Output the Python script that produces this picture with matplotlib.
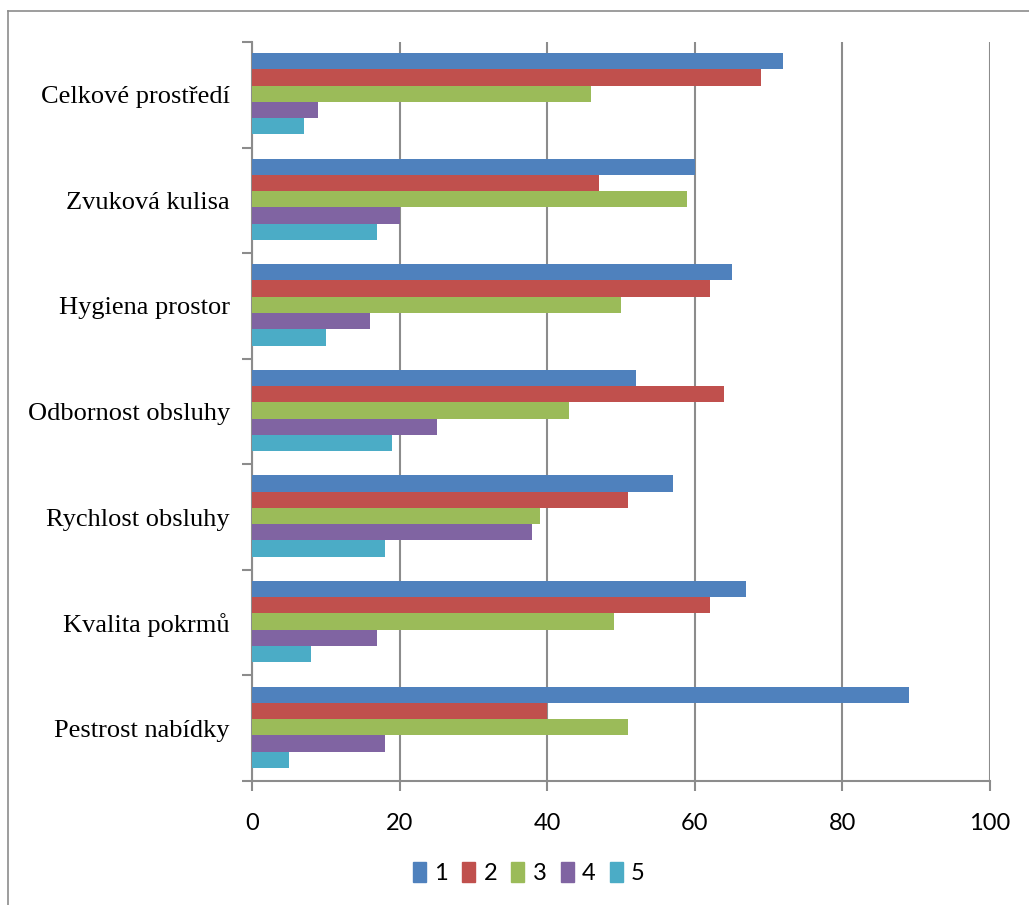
import numpy as np
import matplotlib
matplotlib.use("Agg")
import matplotlib.pyplot as plt
import matplotlib.ticker as ticker
from matplotlib.lines import Line2D

DPI = 100
WIDTH_PX = 1029
HEIGHT_PX = 905

# ── data (bottom category first) ──
categories = ["Pestrost nabídky", "Kvalita pokrmů", "Rychlost obsluhy",
              "Odbornost obsluhy", "Hygiena prostor", "Zvuková kulisa",
              "Celkové prostředí"]
series_names = ["1", "2", "3", "4", "5"]
s1 = [89, 67, 57, 52, 65, 60, 72]
s2 = [40, 62, 51, 64, 62, 47, 69]
s3 = [51, 49, 39, 43, 50, 59, 46]
s4 = [18, 17, 38, 25, 16, 20, 9]
s5 = [5, 8, 18, 19, 10, 17, 7]
x_ticks = [0, 20, 40, 60, 80, 100]

colors = ["#4F81BD", "#C0504D", "#9BBB59", "#8064A2", "#4BACC6"]
GRID = "#8C8C8C"
SANS = ["Lato", "DejaVu Sans"]

fig = plt.figure(figsize=(WIDTH_PX / DPI, HEIGHT_PX / DPI), dpi=DPI)
ax = fig.add_axes([252 / WIDTH_PX, 1 - 781 / HEIGHT_PX,
                   (990 - 252) / WIDTH_PX, (781 - 42) / HEIGHT_PX])

y = np.arange(len(categories))
bar_h = 0.154
for i, vals in enumerate([s1, s2, s3, s4, s5]):
    # series 1 on top inside each group
    offs = (2 - i) * bar_h + 0.01
    ax.barh(y + offs, vals, height=bar_h, color=colors[i],
            edgecolor="none", zorder=3, label=series_names[i])

ax.set_xlim(0, 100)
ax.set_ylim(-0.5, len(categories) - 0.5)
ax.set_xticks(x_ticks)
ax.set_xticklabels([str(t) for t in x_ticks], fontsize=17, family=SANS)
ax.set_yticks(y)
ax.set_yticklabels(categories, fontsize=19, family=["Liberation Serif", "DejaVu Serif"])
ax.yaxis.set_minor_locator(ticker.FixedLocator(np.arange(-0.5, len(categories), 1.0)))

ax.tick_params(axis="y", which="major", length=0, pad=16)
ax.tick_params(axis="y", which="minor", length=7, width=1.5, color=GRID, direction="out")
ax.tick_params(axis="x", which="major", length=7, width=1.5, color=GRID,
               direction="out", pad=16)

ax.grid(axis="x", color=GRID, linewidth=1.5, zorder=0)
for side in ["top", "right"]:
    ax.spines[side].set_visible(False)
for side in ["left", "bottom"]:
    ax.spines[side].set_color(GRID)
    ax.spines[side].set_linewidth(1.5)

handles = [plt.Rectangle((0, 0), 1, 1, color=c) for c in colors]
fig.legend(handles, series_names, loc="center", bbox_to_anchor=(529 / WIDTH_PX, 1 - 873 / HEIGHT_PX),
           ncol=5, frameon=False, handlelength=0.55, handleheight=0.9,
           handletextpad=0.35, columnspacing=0.6,
           prop={"family": SANS, "size": 17})

# outer chart border (only top and left visible in the crop)
fig.add_artist(Line2D([8 / WIDTH_PX, 1.0], [1 - 11 / HEIGHT_PX] * 2,
                      color="#8C8C8C", linewidth=1.2, transform=fig.transFigure))
fig.add_artist(Line2D([8 / WIDTH_PX] * 2, [0.0, 1 - 11 / HEIGHT_PX],
                      color="#8C8C8C", linewidth=1.2, transform=fig.transFigure))

fig.savefig("out.png", dpi=DPI)
